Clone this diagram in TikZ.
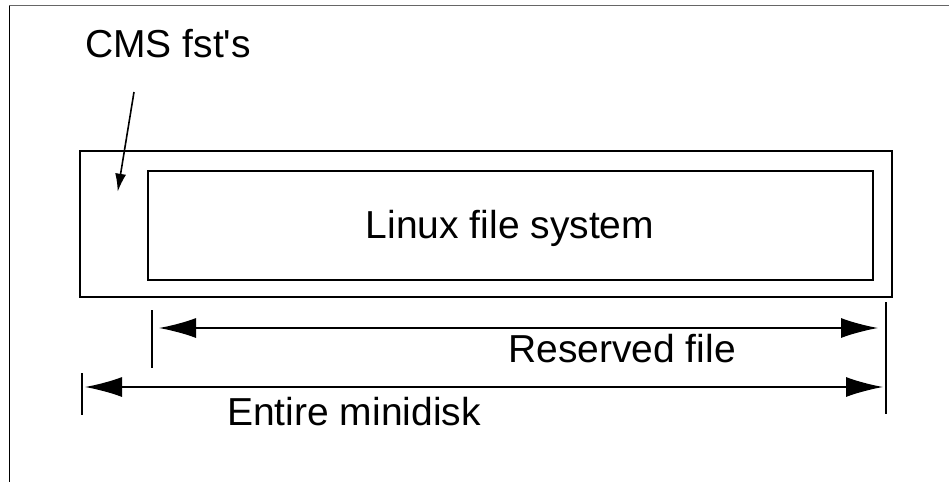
\documentclass[tikz,border=0pt]{standalone}
\usepackage{fontspec}
\setmainfont{Liberation Sans}
\usetikzlibrary{arrows.meta,fit}
\begin{document}
\begin{tikzpicture}[x=1pt,y=-1pt,
  lbl/.style={inner sep=0pt,font=\fontsize{39}{46}\selectfont},
  box/.style={draw,line width=2.2pt,inner sep=0pt},
  dim/.style={line width=1.6pt,{Latex[length=37pt,width=20pt]}-{Latex[length=37pt,width=20pt]}},
  tick/.style={line width=1.6pt},
  frame/.style={line width=1.3pt}]
\useasboundingbox (0,0) rectangle (949,482);
% frame
\draw[frame,draw=black!60] (9,5.5) -- (949,5.5);
\draw[frame] (9.3,5.5) -- (9.3,482);
% boxes
\node[box,fit={(80,151) (892,297)}] (outer) {};
\node[box,fit={(148,171) (873,280)}] (inner) {};
% texts
\node[lbl,anchor=base west] (cms) at (85,57) {CMS fst\textquotesingle s};
\node[lbl,anchor=base] (linux) at (510,238) {Linux file system};
\node[lbl,anchor=base west] (res) at (508,362) {Reserved file};
\node[lbl,anchor=base west] (ent) at (227,425) {Entire minidisk};
% CMS arrow
\coordinate (cmsA) at (134,92);
\coordinate (cmsB) at (117.7,191.7);
\draw[line width=1.6pt,-{Latex[length=18pt,width=11pt]}] (cmsA) -- (cmsB);
% ticks
\coordinate (t1a) at (152,310); \coordinate (t1b) at (152,368);
\coordinate (t2a) at (886,302); \coordinate (t2b) at (886,414);
\coordinate (t3a) at (82,373);  \coordinate (t3b) at (82,415);
\draw[tick] (t1a) -- (t1b);
\draw[tick] (t2a) -- (t2b);
\draw[tick] (t3a) -- (t3b);
% dimension arrows
\coordinate (r1) at (159,328); \coordinate (r2) at (878,328);
\coordinate (e1) at (85,387);  \coordinate (e2) at (883,387);
\draw[dim] (r1) -- (r2);
\draw[dim] (e1) -- (e2);
\end{tikzpicture}
\end{document}
